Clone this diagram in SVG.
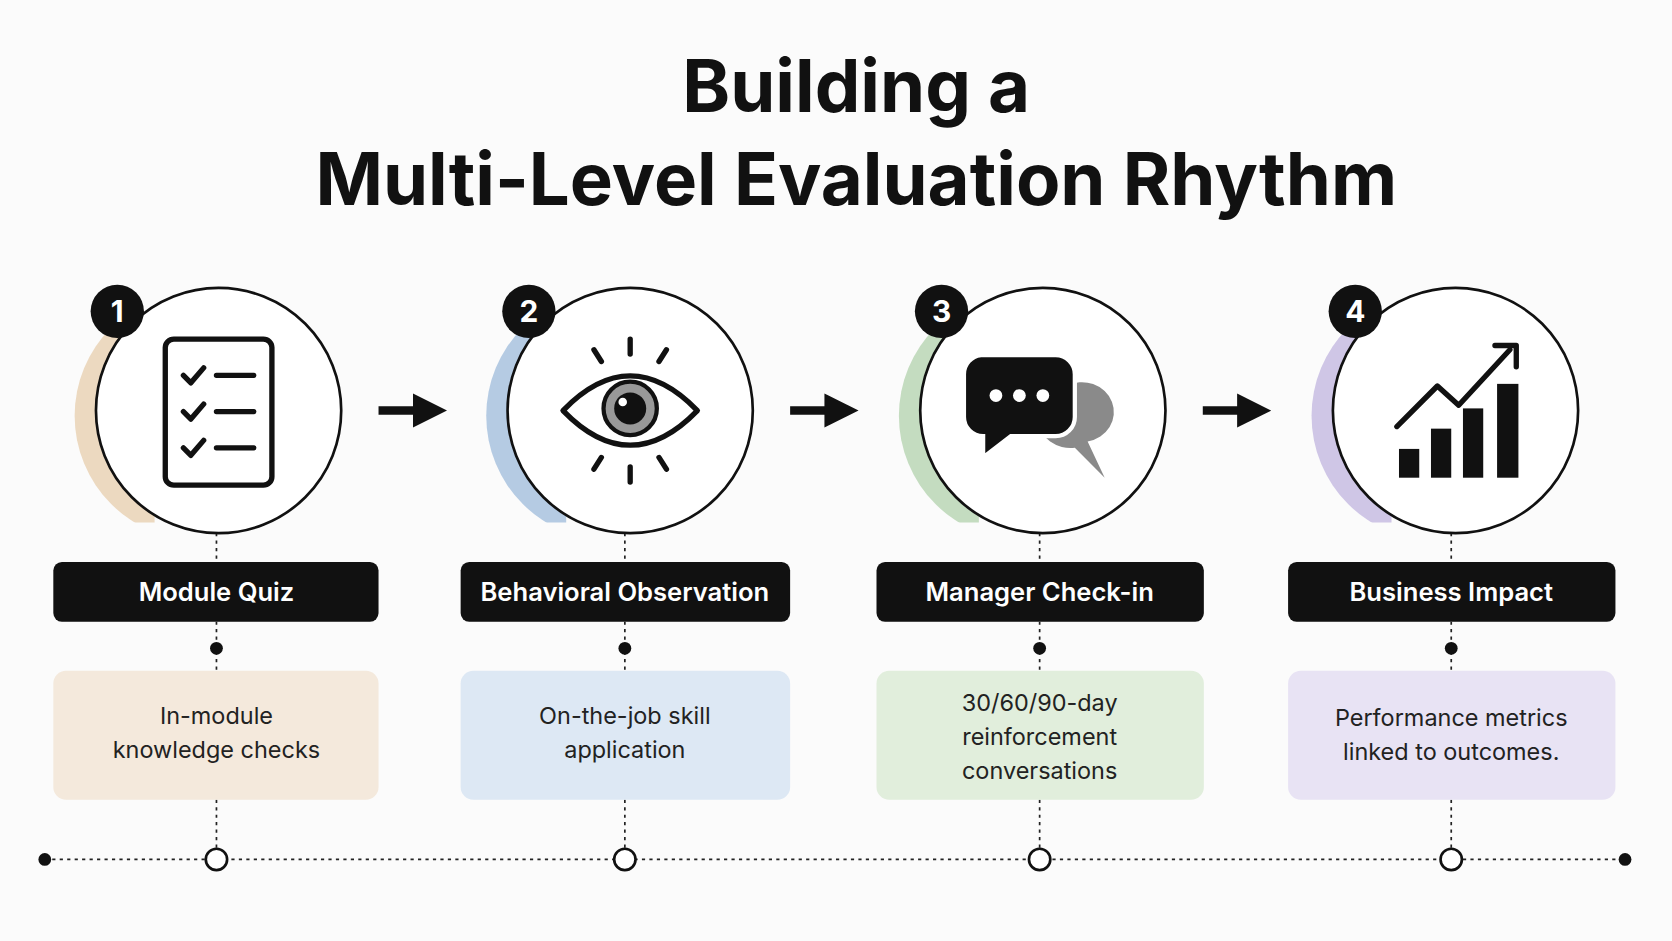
<svg xmlns="http://www.w3.org/2000/svg" width="1672" height="941" viewBox="0 0 1672 941">
<style>
.t{font-family:"Inter","Liberation Sans",sans-serif;font-weight:700;fill:#111;text-anchor:middle}
.lbl{font-family:"Inter","Liberation Sans",sans-serif;font-weight:600;fill:#fff;font-size:24px;text-anchor:middle}
.d{font-family:"Inter","Liberation Sans",sans-serif;fill:#222;font-size:22px;text-anchor:middle}
.ring{fill:#fff;stroke:#111;stroke-width:2.5}
.ic{fill:none;stroke:#111;stroke-width:5;stroke-linecap:round;stroke-linejoin:round}
.dash{stroke:#222;stroke-width:1.6;stroke-dasharray:3 4;fill:none}
.bn{font-family:"Inter","Liberation Sans",sans-serif;font-weight:700;fill:#fff;font-size:28px;text-anchor:middle}
</style>
<defs>
<marker id="ah" viewBox="0 0 10 10" refX="4" refY="5" markerWidth="4" markerHeight="4.4" orient="auto"><path d="M0,0 L10,5 L0,10 Z" fill="#111"/></marker>
<clipPath id="cl"><rect x="-200" y="-75" width="140" height="180"/></clipPath>
</defs>
<rect width="1672" height="941" fill="#fbfbfb"/>
<g transform="scale(1.0663)">
<text class="t" x="803" y="105" font-size="68">Building a</text>
<text class="t" x="803" y="192" font-size="68">Multi-Level Evaluation Rhythm</text>
<g id="connectors">
<line x1="42" y1="806" x2="1524" y2="806" class="dash"/>
<circle cx="42" cy="806" r="6" fill="#111"/><circle cx="1524" cy="806" r="6" fill="#111"/>
<g class="dash"><line x1="203" y1="500" x2="203" y2="527"/><line x1="203" y1="583" x2="203" y2="629"/><line x1="203" y1="750" x2="203" y2="796"/>
<line x1="586" y1="500" x2="586" y2="527"/><line x1="586" y1="583" x2="586" y2="629"/><line x1="586" y1="750" x2="586" y2="796"/>
<line x1="975" y1="500" x2="975" y2="527"/><line x1="975" y1="583" x2="975" y2="629"/><line x1="975" y1="750" x2="975" y2="796"/>
<line x1="1361" y1="500" x2="1361" y2="527"/><line x1="1361" y1="583" x2="1361" y2="629"/><line x1="1361" y1="750" x2="1361" y2="796"/></g>
<g fill="#111"><circle cx="203" cy="608" r="6"/><circle cx="586" cy="608" r="6"/><circle cx="975" cy="608" r="6"/><circle cx="1361" cy="608" r="6"/></g>
<g fill="#fff" stroke="#111" stroke-width="2.5"><circle cx="203" cy="806" r="10"/><circle cx="586" cy="806" r="10"/><circle cx="975" cy="806" r="10"/><circle cx="1361" cy="806" r="10"/></g>
<g stroke="#111" stroke-width="8" marker-end="url(#ah)"><line x1="355" y1="385" x2="400" y2="385"/><line x1="741" y1="385" x2="786" y2="385"/><line x1="1128" y1="385" x2="1173" y2="385"/></g>
</g>
<g id="n1">
<g transform="translate(205,385)"><circle cx="-18" cy="5" r="117" fill="#ecd9c0" clip-path="url(#cl)"/></g><circle cx="205" cy="385" r="115" class="ring"/>
<circle cx="110" cy="292" r="25" fill="#111"/><text class="bn" x="110" y="302">1</text>
<rect x="155" y="318" width="100" height="137" rx="8" class="ic"/>
<path class="ic" d="M172,352 l7,7 l12,-14 M172,386 l7,7 l12,-14 M172,420 l7,7 l12,-14 M203,352 h35 M203,386 h35 M203,420 h35" stroke-width="4"/>
<rect x="50" y="527" width="305" height="56" rx="8" fill="#111"/><text class="lbl" x="203" y="564">Module Quiz</text>
<rect x="50" y="629" width="305" height="121" rx="12" fill="#f4e9dc"/>
<text class="d" x="203" y="679">In-module</text><text class="d" x="203" y="711">knowledge checks</text>
</g>
<g id="n2">
<g transform="translate(591,385)"><circle cx="-18" cy="5" r="117" fill="#b5cbe3" clip-path="url(#cl)"/></g><circle cx="591" cy="385" r="115" class="ring"/>
<circle cx="496" cy="292" r="25" fill="#111"/><text class="bn" x="496" y="302">2</text>
<path class="ic" d="M528,385 Q591,320 654,385 Q591,450 528,385 Z"/>
<circle cx="591" cy="383" r="25" fill="#999" stroke="#111" stroke-width="4"/><circle cx="591" cy="383" r="15" fill="#111"/><circle cx="584" cy="377" r="4" fill="#fff"/>
<path class="ic" stroke-width="4" d="M591,318 v14 M557,328 l7,11 M625,328 l-7,11 M591,438 v14 M557,440 l7,-11 M625,440 l-7,-11"/>
<rect x="432" y="527" width="309" height="56" rx="8" fill="#111"/><text class="lbl" x="586" y="564">Behavioral Observation</text>
<rect x="432" y="629" width="309" height="121" rx="12" fill="#dde8f4"/>
<text class="d" x="586" y="679">On-the-job skill</text><text class="d" x="586" y="711">application</text>
</g>
<g id="n3">
<g transform="translate(978,385)"><circle cx="-18" cy="5" r="117" fill="#c4dcc0" clip-path="url(#cl)"/></g><circle cx="978" cy="385" r="115" class="ring"/>
<circle cx="883" cy="292" r="25" fill="#111"/><text class="bn" x="883" y="302">3</text>
<path d="M1000,362 a30,28 0 1 1 20,52 l16,34 l-28,-28 a30,28 0 0 1 -8,-58 Z" fill="#8a8a8a"/>
<path d="M920,333 h70 a18,18 0 0 1 18,18 v40 a18,18 0 0 1 -18,18 h-42 l-26,20 v-20 a18,18 0 0 1 -18,-18 v-40 a18,18 0 0 1 16,-18 Z" fill="#111" stroke="#fff" stroke-width="4"/>
<circle cx="934" cy="371" r="6" fill="#fff"/><circle cx="956" cy="371" r="6" fill="#fff"/><circle cx="978" cy="371" r="6" fill="#fff"/>
<rect x="822" y="527" width="307" height="56" rx="8" fill="#111"/><text class="lbl" x="975" y="564">Manager Check-in</text>
<rect x="822" y="629" width="307" height="121" rx="12" fill="#e1eedc"/>
<text class="d" x="975" y="667">30/60/90-day</text><text class="d" x="975" y="699">reinforcement</text><text class="d" x="975" y="731">conversations</text>
</g>
<g id="n4">
<g transform="translate(1365,385)"><circle cx="-18" cy="5" r="117" fill="#cfc6e6" clip-path="url(#cl)"/></g><circle cx="1365" cy="385" r="115" class="ring"/>
<circle cx="1271" cy="292" r="25" fill="#111"/><text class="bn" x="1271" y="302">4</text>
<g fill="#111"><rect x="1312" y="421" width="19" height="27"/><rect x="1342" y="402" width="19" height="46"/><rect x="1372" y="383" width="19" height="65"/><rect x="1404" y="360" width="20" height="88"/></g>
<path class="ic" d="M1310,400 l38,-38 l20,18 l48,-52"/><path class="ic" d="M1402,324 h20 v20"/>
<rect x="1208" y="527" width="307" height="56" rx="8" fill="#111"/><text class="lbl" x="1361" y="564">Business Impact</text>
<rect x="1208" y="629" width="307" height="121" rx="12" fill="#e8e3f4"/>
<text class="d" x="1361" y="681">Performance metrics</text><text class="d" x="1361" y="713">linked to outcomes.</text>
</g>
</g>
</svg>
